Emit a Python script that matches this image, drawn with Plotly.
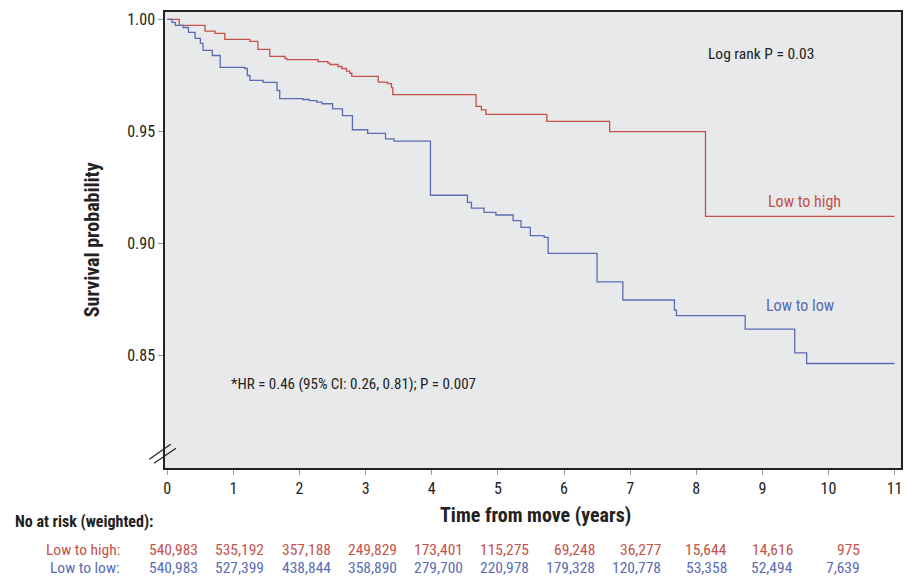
import plotly.graph_objects as go

# ---- data ----
red_t = [0, 0.18, 0.57, 0.72, 0.87, 1.25, 1.37, 1.55, 1.78, 1.81, 2.28, 2.43, 2.46, 2.58, 2.64,
         2.71, 2.76, 2.79, 3.19, 3.33, 3.39, 3.41, 4.67, 4.75, 4.82, 5.74, 6.69, 8.14, 11.0]
red_s = [1.0, 0.9973, 0.9948, 0.9938, 0.9911, 0.9902, 0.9866, 0.9835, 0.9826, 0.9821, 0.9812,
         0.9805, 0.9799, 0.9790, 0.9781, 0.9769, 0.9760, 0.9746, 0.9720, 0.9714, 0.9696, 0.9665,
         0.9612, 0.9597, 0.9577, 0.9545, 0.9500, 0.9122, 0.9122]

blue_t = [0, 0.07, 0.12, 0.24, 0.32, 0.42, 0.50, 0.54, 0.68, 0.80, 1.17, 1.21, 1.25, 1.45, 1.66,
          1.70, 2.05, 2.15, 2.26, 2.34, 2.50, 2.65, 2.80, 3.03, 3.30, 3.43, 3.98, 4.54, 4.60,
          4.79, 4.97, 5.23, 5.35, 5.49, 5.70, 5.76, 6.50, 6.89, 7.67, 7.70, 8.74, 9.49, 9.67, 11.0]
blue_s = [1.0, 0.9987, 0.9973, 0.9964, 0.9942, 0.9915, 0.9893, 0.9862, 0.9839, 0.9786, 0.9781,
          0.9750, 0.9728, 0.9719, 0.9683, 0.9647, 0.9643, 0.9638, 0.9631, 0.9624, 0.9601, 0.9571,
          0.9508, 0.9492, 0.9467, 0.9457, 0.9216, 0.9184, 0.9159, 0.9140, 0.9128, 0.9103, 0.9073,
          0.9036, 0.9028, 0.8957, 0.8830, 0.8749, 0.8704, 0.8679, 0.8619, 0.8513, 0.8466, 0.8466]

risk_years = list(range(11))
risk_high = ["540,983", "535,192", "357,188", "249,829", "173,401", "115,275", "69,248",
             "36,277", "15,644", "14,616", "975"]
risk_low = ["540,983", "527,399", "438,844", "358,890", "279,700", "220,978", "179,328",
            "120,778", "53,358", "52,494", "7,639"]

x_ticks = list(range(12))
y_ticks = [0.85, 0.90, 0.95, 1.00]

RED = "#c4524a"
BLUE = "#5a6cb4"
FONT = "Liberation Sans Narrow, Roboto Condensed, DejaVu Sans Condensed, Arial Narrow, Roboto, sans-serif"

fig = go.Figure()
fig.add_trace(go.Scatter(x=red_t, y=red_s, mode="lines", line=dict(color=RED, width=1.3, shape="hv"),
                         name="Low to high", showlegend=False))
fig.add_trace(go.Scatter(x=blue_t, y=blue_s, mode="lines", line=dict(color=BLUE, width=1.3, shape="hv"),
                         name="Low to low", showlegend=False))

ROW_HIGH = -0.180
ROW_LOW = -0.220

ann = []
ann.append(dict(text="<b>Survival probability</b>", xref="paper", yref="paper", x=-0.0989, y=0.5,
                textangle=-90, showarrow=False, font=dict(size=20, color="#222"),
                xanchor="center", yanchor="middle"))
ann.append(dict(text="<b>Time from move (years)</b>", xref="paper", yref="paper", x=0.504, y=-0.103,
                showarrow=False, font=dict(size=20, color="#222"), xanchor="center", yanchor="middle"))
ann.append(dict(text="<b>No at risk (weighted):</b>", xref="paper", yref="paper", x=-0.2064, y=-0.118,
                showarrow=False, font=dict(size=16, color="#222"), xanchor="left", yanchor="middle"))
ann.append(dict(text="Low to high:", xref="paper", yref="paper", x=-0.0587, y=ROW_HIGH,
                showarrow=False, font=dict(size=15.5, color=RED), xanchor="right", yanchor="middle"))
ann.append(dict(text="Low to low:", xref="paper", yref="paper", x=-0.0587, y=ROW_LOW,
                showarrow=False, font=dict(size=15.5, color=BLUE), xanchor="right", yanchor="middle"))
for t, a, b in zip(risk_years, risk_high, risk_low):
    ann.append(dict(text=a, xref="x", yref="paper", x=t + 0.5, y=ROW_HIGH, showarrow=False,
                    font=dict(size=15.5, color=RED), xanchor="right", yanchor="middle"))
    ann.append(dict(text=b, xref="x", yref="paper", x=t + 0.5, y=ROW_LOW, showarrow=False,
                    font=dict(size=15.5, color=BLUE), xanchor="right", yanchor="middle"))
ann.append(dict(text="Log rank P = 0.03", xref="paper", yref="paper", x=0.810, y=0.908,
                showarrow=False, font=dict(size=15.5, color="#222"), xanchor="center", yanchor="middle"))
ann.append(dict(text="Low to high", xref="paper", yref="paper", x=0.8695, y=0.585,
                showarrow=False, font=dict(size=16, color=RED), xanchor="center", yanchor="middle"))
ann.append(dict(text="Low to low", xref="paper", yref="paper", x=0.8627, y=0.3553,
                showarrow=False, font=dict(size=16, color=BLUE), xanchor="center", yanchor="middle"))
ann.append(dict(text="*HR = 0.46 (95% CI: 0.26, 0.81); P = 0.007", xref="paper", yref="paper",
                x=0.0867, y=0.184, showarrow=False, font=dict(size=15, color="#222"),
                xanchor="left", yanchor="middle"))

shapes = [
    dict(type="line", xref="paper", yref="paper", x0=-0.0213, y0=0.0191, x1=0.0077, y1=0.052,
         line=dict(color="#222", width=1.2)),
    dict(type="line", xref="paper", yref="paper", x0=-0.0149, y0=0.0103, x1=0.0149, y1=0.0432,
         line=dict(color="#222", width=1.2)),
]

fig.update_layout(
    width=906, height=576,
    margin=dict(l=165, r=3, t=12, b=108),
    paper_bgcolor="white", plot_bgcolor="#e8e9ea",
    font=dict(family=FONT, size=15, color="#222"),
    annotations=ann, shapes=shapes,
    xaxis=dict(range=[-0.035, 11.097], tickvals=x_ticks, ticks="outside", ticklen=5,
               tickcolor="#999", showgrid=False, zeroline=False, showline=True,
               linecolor="#222", linewidth=1.5, mirror=True, tickfont=dict(size=16)),
    yaxis=dict(range=[0.8, 1.0033], tickvals=y_ticks, tickformat=".2f", ticks="outside",
               ticklen=5, tickcolor="#999", showgrid=False, zeroline=False, showline=True,
               linecolor="#222", linewidth=1.5, mirror=True, tickfont=dict(size=16)),
)
fig.write_html("out.html", config={"displayModeBar": False},
               post_script="document.body.style.margin='0';document.body.style.overflow='hidden';")
